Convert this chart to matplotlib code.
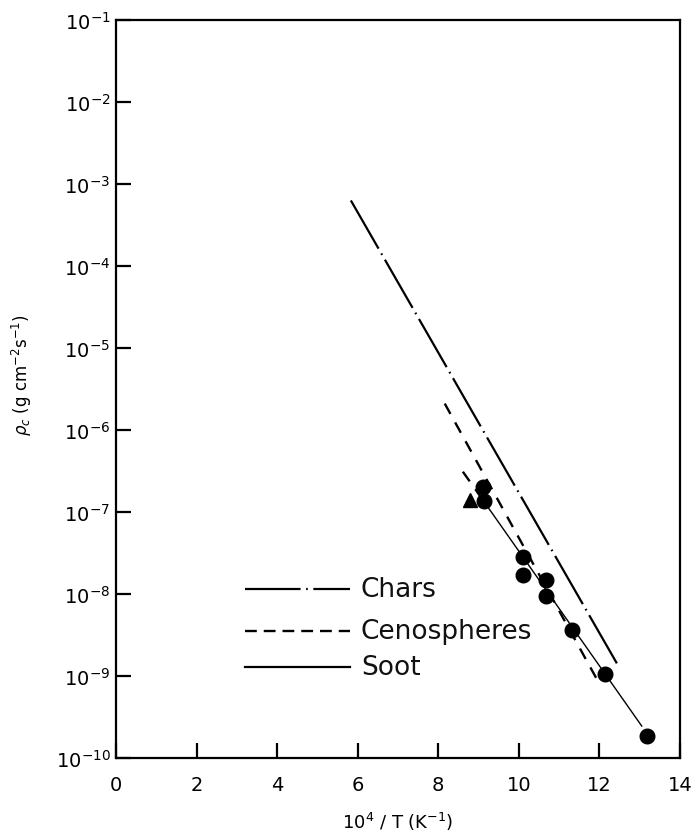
import matplotlib
matplotlib.use("Agg")
import matplotlib.pyplot as plt
from matplotlib.lines import Line2D
from matplotlib.ticker import NullLocator, FixedLocator

plt.rcParams['font.family'] = ['DejaVu Sans']
plt.rcParams['lines.scale_dashes'] = False
plt.rcParams['mathtext.fontset'] = 'dejavusans'

# ---- data ----
chars_x = [5.83, 12.46]
chars_y = [6.3e-4, 1.35e-9]
ceno_x = [8.16, 11.96]
ceno_y = [2.1e-6, 8.7e-10]
ceno2_x = [8.61, 9.13]
ceno2_y = [3.1e-7, 1.35e-7]
soot_x = [9.13, 13.05]
soot_y = [1.35e-7, 2.45e-10]
soot_pts_x = [9.11, 9.13, 10.1, 10.1, 10.67, 10.67, 11.32, 12.13, 13.18]
soot_pts_y = [2.0e-7, 1.35e-7, 2.8e-8, 1.7e-8, 1.5e-8, 9.5e-9, 3.6e-9, 1.07e-9, 1.85e-10]
tri_x = [8.78]
tri_y = [1.4e-7]
xticks = [0, 2, 4, 6, 8, 10, 12, 14]
yexps = [-10, -9, -8, -7, -6, -5, -4, -3, -2, -1]
legend_labels = ['Chars', 'Cenospheres', 'Soot']

chars_dash = (40, 4, 1.2, 4)
ceno_dash = (8.5, 7)

fig = plt.figure(figsize=(6.92, 8.37), dpi=100)
ax = fig.add_axes([0.1676, 0.0932, 0.8151, 0.8817])

ax.set_yscale('log')
ax.set_xlim(0, 14)
ax.set_ylim(1e-10, 1e-1)

ax.plot(chars_x, chars_y, color='black', lw=1.6, dashes=chars_dash)
ax.plot(ceno_x, ceno_y, color='black', lw=1.7, dashes=ceno_dash)
ax.plot(ceno2_x, ceno2_y, color='black', lw=1.7, dashes=ceno_dash)
ax.plot(soot_x, soot_y, color='black', lw=1.0)
ax.plot(soot_pts_x, soot_pts_y, 'o', color='black', ms=10.5)
ax.plot(tri_x, tri_y, '^', color='black', ms=9.5)

# legend (drawn manually)
styles = [dict(lw=1.6, dashes=chars_dash), dict(lw=1.7, dashes=(8.5, 5)), dict(lw=1.6)]
rows_y = [0.229, 0.172, 0.123]
for lab, st, yy in zip(legend_labels, styles, rows_y):
    ax.add_line(Line2D([0.229, 0.415], [yy, yy], transform=ax.transAxes,
                       color='black', **st))
    ax.text(0.434, yy, lab, transform=ax.transAxes, fontsize=19,
            va='center', ha='left', color='#111111')

ax.set_xticks(xticks)
ax.set_xticklabels([str(t) for t in xticks])
ax.yaxis.set_major_locator(FixedLocator([10.0 ** e for e in yexps]))
ax.set_yticklabels([r'$10^{%d}$' % e for e in yexps])
ax.yaxis.set_minor_locator(NullLocator())
ax.tick_params(axis='both', direction='in', length=11, width=1.6,
               colors='black')
ax.tick_params(axis='x', pad=12, labelsize=14)
ax.tick_params(axis='y', pad=4, labelsize=14)
for s in ax.spines.values():
    s.set_linewidth(1.6)

ax.set_xlabel(r'$10^4$ / T (K$^{-1}$)', fontsize=13, labelpad=12)
ax.set_ylabel(r'$\rho_c$ (g cm$^{-2}$s$^{-1}$)', fontsize=12)
ax.yaxis.set_label_coords(-0.145, 0.52)

fig.savefig('out.png', dpi=100)
